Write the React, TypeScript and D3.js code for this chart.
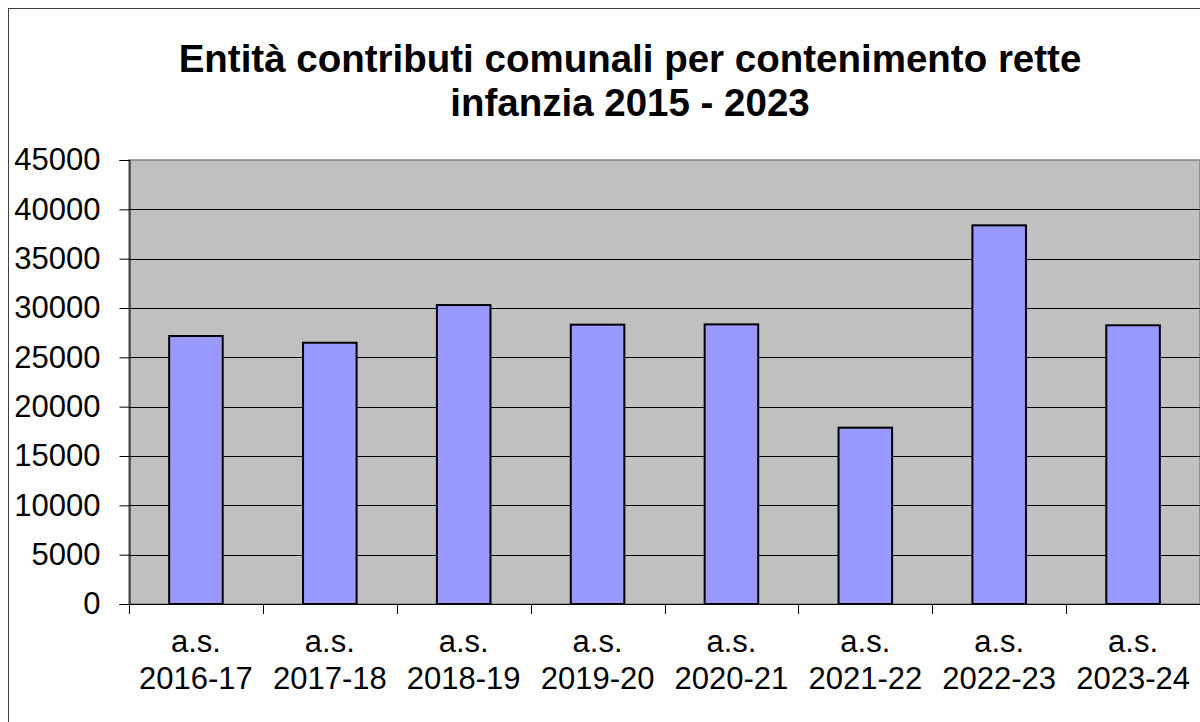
import React, { useRef, useEffect } from "react";
import * as d3 from "d3";

// data
const categories = [
  "2016-17",
  "2017-18",
  "2018-19",
  "2019-20",
  "2020-21",
  "2021-22",
  "2022-23",
  "2023-24",
];
const values = [27160, 26480, 30300, 28310, 28340, 17870, 38380, 28250];
const yTicks = [0, 5000, 10000, 15000, 20000, 25000, 30000, 35000, 40000, 45000];
const titleLines = [
  "Entità contributi comunali per contenimento rette",
  "infanzia 2015 - 2023",
];

const W = 1200;
const H = 722;
const plot = { left: 129, right: 1200, top: 160, bottom: 604 };

const App = () => {
  const svgRef = useRef<SVGSVGElement>(null);

  useEffect(() => {
    const svg = d3.select(svgRef.current);
    svg.selectAll("*").remove();

    const font = "'Liberation Sans', Arial, sans-serif";

    // outer chart frame (runs off the right / bottom edge like the source)
    svg
      .append("rect")
      .attr("x", 8.5)
      .attr("y", 8.5)
      .attr("width", W + 20)
      .attr("height", H + 20)
      .attr("fill", "#fff")
      .attr("stroke", "#404040")
      .attr("stroke-width", 1);

    // title
    svg
      .append("g")
      .selectAll("text")
      .data(titleLines)
      .join("text")
      .attr("x", 630)
      .attr("y", (d, i) => 72 + i * 44)
      .attr("text-anchor", "middle")
      .attr("font-family", font)
      .attr("font-weight", "bold")
      .attr("font-size", 38.5)
      .attr("fill", "#000")
      .text((d) => d);

    //scales
    const x = d3
      .scaleBand()
      .domain(categories)
      .range([plot.left, plot.right])
      .paddingInner(0.6)
      .paddingOuter(0.3);
    const xEdge = d3
      .scaleLinear()
      .domain([0, categories.length])
      .range([plot.left, plot.right]);
    const y = d3.scaleLinear().domain([0, 45000]).range([plot.bottom, plot.top]);

    // plot area
    svg
      .append("rect")
      .attr("x", plot.left)
      .attr("y", plot.top)
      .attr("width", plot.right - plot.left)
      .attr("height", plot.bottom - plot.top)
      .attr("fill", "#c0c0c0")
      .attr("stroke", "#808080")
      .attr("stroke-width", 1.5);

    // gridlines
    svg
      .append("g")
      .selectAll("line")
      .data(yTicks.filter((t) => t > 0 && t < 45000))
      .join("line")
      .attr("x1", plot.left)
      .attr("x2", plot.right)
      .attr("y1", (d) => Math.round(y(d)) + 0.5)
      .attr("y2", (d) => Math.round(y(d)) + 0.5)
      .attr("stroke", "#000")
      .attr("stroke-width", 1);

    // bars
    svg
      .append("g")
      .selectAll("rect")
      .data(values)
      .join("rect")
      .attr("x", (d, i) => x(categories[i])!)
      .attr("y", (d) => y(d))
      .attr("width", x.bandwidth())
      .attr("height", (d) => plot.bottom - y(d))
      .attr("fill", "#9999ff")
      .attr("stroke", "#000")
      .attr("stroke-width", 2);

    // y axis
    const yAxis = d3
      .axisLeft(y)
      .tickValues(yTicks)
      .tickSize(10)
      .tickPadding(19)
      .tickFormat((d) => String(d));
    const gy = svg
      .append("g")
      .attr("transform", `translate(${plot.left + 0.5},0)`)
      .call(yAxis);
    gy.select(".domain").attr("stroke", "#000");
    gy.selectAll(".tick line").attr("stroke", "#000");
    gy.selectAll(".tick text")
      .attr("font-family", font)
      .attr("font-size", 31)
      .attr("fill", "#000");

    // x axis line + boundary ticks
    svg
      .append("line")
      .attr("x1", plot.left)
      .attr("x2", plot.right)
      .attr("y1", plot.bottom + 0.5)
      .attr("y2", plot.bottom + 0.5)
      .attr("stroke", "#000");
    svg
      .append("g")
      .selectAll("line")
      .data(d3.range(categories.length + 1))
      .join("line")
      .attr("x1", (d) => Math.round(xEdge(d)) + 0.5)
      .attr("x2", (d) => Math.round(xEdge(d)) + 0.5)
      .attr("y1", plot.bottom)
      .attr("y2", plot.bottom + 10)
      .attr("stroke", "#000");

    // category labels
    const labels = svg
      .append("g")
      .selectAll("text")
      .data(categories)
      .join("text")
      .attr("text-anchor", "middle")
      .attr("font-family", font)
      .attr("font-size", 31)
      .attr("fill", "#000");
    labels
      .append("tspan")
      .attr("x", (d) => x(d)! + x.bandwidth() / 2)
      .attr("y", 652)
      .text("a.s.");
    labels
      .append("tspan")
      .attr("x", (d) => x(d)! + x.bandwidth() / 2)
      .attr("y", 689)
      .text((d) => d);
  }, []);

  return (
    <svg
      ref={svgRef}
      width={W}
      height={H}
      style={{ position: "absolute", left: 0, top: 0, background: "#fff" }}
    ></svg>
  );
};

export default App;
